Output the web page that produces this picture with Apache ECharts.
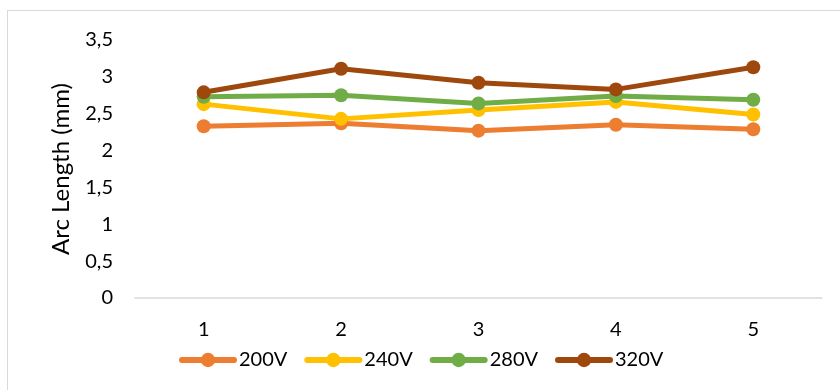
<!DOCTYPE html>
<html>
<head>
<meta charset="utf-8">
<script src="https://cdn.jsdelivr.net/npm/echarts@6/dist/echarts.min.js"></script>
<style>
  html, body { margin: 0; padding: 0; background: #fff; }
  #frame { position: absolute; left: 7px; top: 10px; width: 840px; height: 390px; border: 1px solid #d9d9d9; box-sizing: border-box; }
  #chart { position: absolute; left: 0; top: 0; width: 840px; height: 390px; }
</style>
</head>
<body>
<div id="frame"></div>
<div id="chart"></div>
<script>
// Arc length per sample, one series per welding voltage
const categories = ['1', '2', '3', '4', '5'];
const v200 = [2.33, 2.37, 2.27, 2.35, 2.29];
const v240 = [2.63, 2.43, 2.55, 2.66, 2.49];
const v280 = [2.73, 2.75, 2.64, 2.74, 2.69];
const v320 = [2.79, 3.11, 2.92, 2.83, 3.13];
const seriesNames = ['200V', '240V', '280V', '320V'];
const colors = ['#ED7D31', '#FFC000', '#70AD47', '#9E480E'];

const font = 'Lato, "Open Sans", sans-serif';
const chart = echarts.init(document.getElementById('chart'));

const makeSeries = (name, data, color) => ({
  name, type: 'line', data,
  symbol: 'circle', symbolSize: 14,
  lineStyle: { width: 5, color, cap: 'round' },
  itemStyle: { color },
  emphasis: { disabled: true },
  animation: false
});

chart.setOption({
  animation: false,
  grid: { left: 135, right: 18, top: 40, bottom: 92 },
  legend: {
    bottom: 15, left: 174,
    itemWidth: 52, itemHeight: 18, itemGap: 17,
    lineStyle: { width: 6, cap: 'round' },
    textStyle: { fontFamily: font, fontSize: 20, color: '#000' },
    data: seriesNames
  },
  xAxis: {
    type: 'category', data: categories, boundaryGap: true,
    axisLine: { lineStyle: { color: '#d9d9d9', width: 1.5 } },
    axisTick: { show: false },
    axisLabel: { fontFamily: font, fontSize: 20, color: '#000', margin: 22 }
  },
  yAxis: {
    type: 'value', min: 0, max: 3.5, interval: 0.5,
    name: 'Arc Length (mm)', nameLocation: 'middle', nameGap: 62, nameRotate: 90,
    nameTextStyle: { fontFamily: font, fontSize: 24, color: '#000' },
    axisLine: { show: false }, axisTick: { show: false },
    splitLine: { show: false },
    axisLabel: {
      fontFamily: font, fontSize: 20, color: '#000', margin: 22,
      formatter: v => String(v).replace('.', ',')
    }
  },
  series: [
    makeSeries(seriesNames[0], v200, colors[0]),
    makeSeries(seriesNames[1], v240, colors[1]),
    makeSeries(seriesNames[2], v280, colors[2]),
    makeSeries(seriesNames[3], v320, colors[3])
  ]
});
</script>
</body>
</html>
